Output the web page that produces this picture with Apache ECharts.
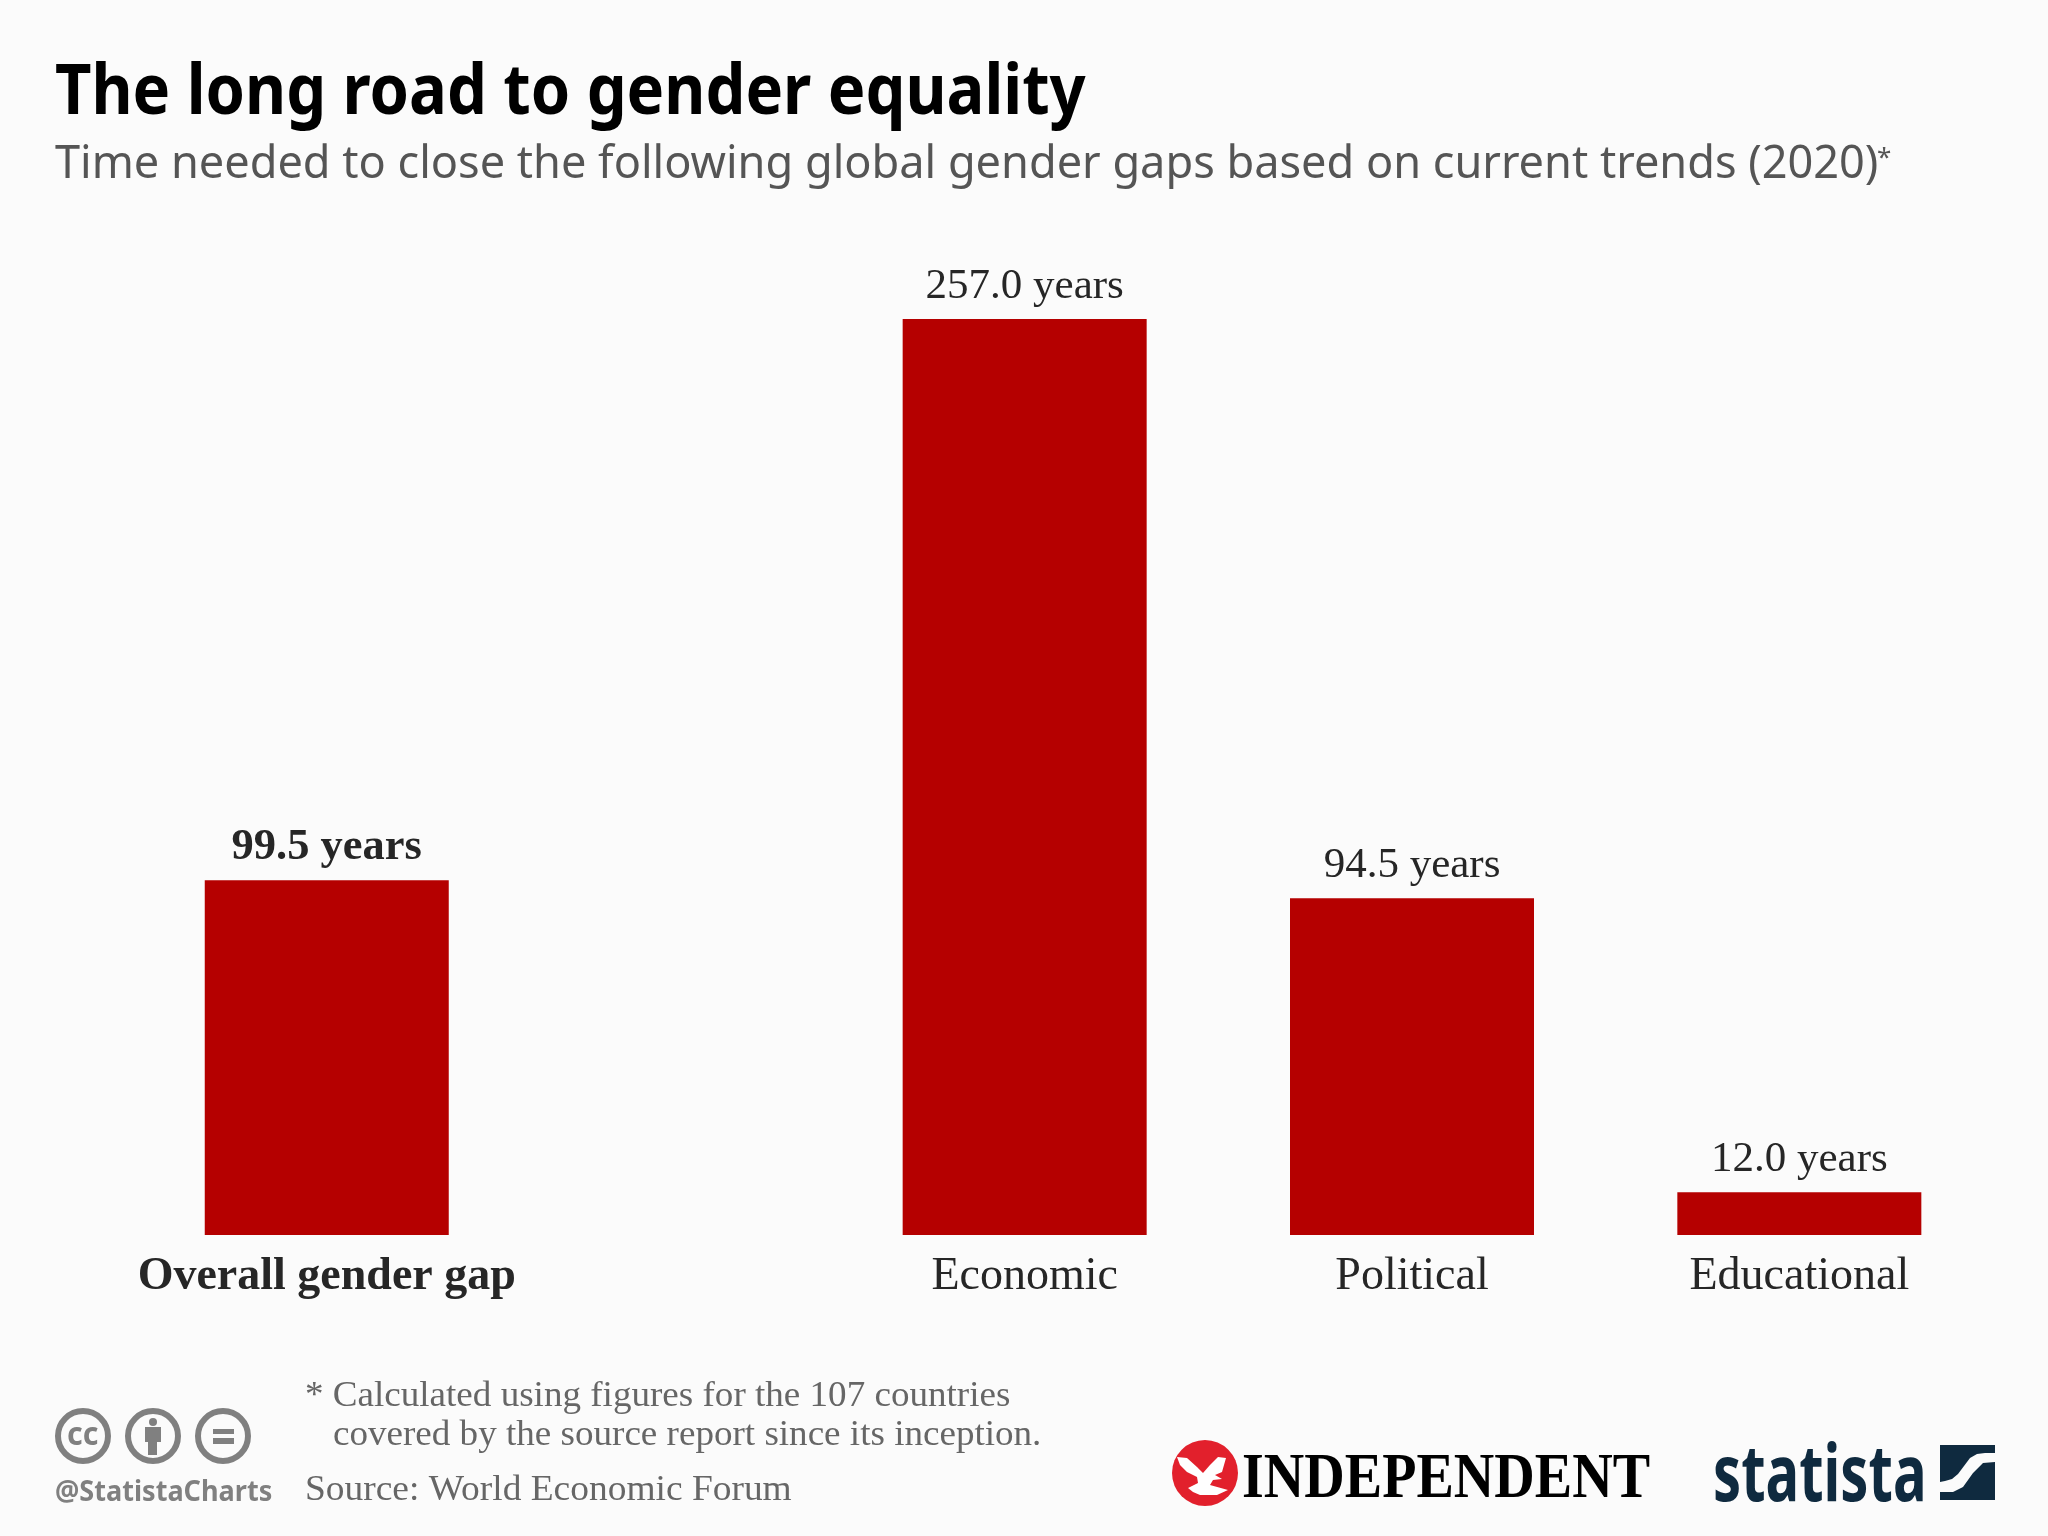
<!DOCTYPE html>
<html><head><meta charset="utf-8">
<style>html,body{margin:0;padding:0;background:#fbfbfb}#c{width:2048px;height:1536px}</style>
<script src="https://cdn.jsdelivr.net/npm/echarts@6/dist/echarts.min.js"></script>
</head><body><div id="c"></div>
<script>
const titleText = 'The long road to gender equality';
const subtitleText = 'Time needed to close the following global gender gaps based on current trends (2020)';
const overallCategories = ['Overall gender gap'];
const overallValues = [99.5];
const gapCategories = ['Economic', 'Political', 'Educational'];
const gapValues = [257.0, 94.5, 12.0];
const footnoteLines = ['* Calculated using figures for the 107 countries', 'covered by the source report since its inception.'];
const sourceText = 'Source: World Economic Forum';

const SERIF = '"Liberation Serif", serif', SANS = '"Noto Sans", sans-serif';
const RED = '#b50000', INK = '#262626', GREY = '#808080', NAVY = '#0f2a3f';
const yMax = 257;
const fmt = p => p.value.toFixed(1) + ' years';

function txt(text, x, y, size, fill, opt) {
  opt = opt || {};
  return {type:'text', x:x, y:y, scaleX:opt.sx||1, silent:true, z:10,
    style:{text:text, fontFamily:opt.font||SANS, fontSize:size, fontWeight:opt.weight||'normal',
      fill:fill, verticalAlign:'bottom', align:'left'}};
}
function ring(cx, cy){ return {type:'circle', shape:{cx:cx, cy:cy, r:25}, silent:true,
  style:{fill:'none', stroke:GREY, lineWidth:6}}; }
function rect(x,y,w,h,fill){ return {type:'rect', shape:{x:x,y:y,width:w,height:h}, silent:true, style:{fill:fill}}; }
function poly(points, fill){ return {type:'polygon', shape:{points:points}, silent:true, z:11, style:{fill:fill}}; }

const graphics = [
  txt(titleText, 55, 129, 70, '#000000', {weight:'bold', sx:0.903}),
  txt(subtitleText, 55, 188, 46, '#555555', {sx:0.98}),
  txt('*', 1877, 172, 26, '#555555'),
  txt(footnoteLines[0], 305, 1415, 36, '#666666', {font:SERIF, sx:1.03}),
  txt(footnoteLines[1], 333, 1454, 36, '#666666', {font:SERIF, sx:1.03}),
  txt(sourceText, 305, 1509, 36, '#666666', {font:SERIF, sx:1.04}),
  ring(83,1436), ring(153,1436), ring(223,1436),
  txt('cc', 67, 1452, 32, GREY, {weight:'bold', sx:0.95}),
  {type:'circle', shape:{cx:153,cy:1422,r:4}, silent:true, style:{fill:GREY}},
  rect(145,1427,16,15,GREY), rect(148,1442,9,13,GREY),
  rect(213,1429,21,5,GREY), rect(213,1438,21,6,GREY),
  txt('@StatistaCharts', 55, 1507, 28, GREY, {weight:'bold', sx:0.967}),
  {type:'circle', shape:{cx:1205,cy:1473,r:33}, silent:true, style:{fill:'#e2202c'}},
  poly([[1177,1457],[1187,1458],[1197,1467],[1203,1473],[1210,1465],[1218,1457],[1226,1458],[1222,1472],[1215,1475],[1222,1479],[1213,1480],[1210,1485],[1228,1490],[1217,1495],[1200,1495],[1193,1492],[1188,1488],[1198,1483],[1197,1477],[1187,1472],[1180,1465]], '#ffffff'),
  txt('INDEPENDENT', 1242, 1512, 63, '#000000', {font:SERIF, weight:'bold', sx:0.89}),
  txt('statista', 1713, 1518, 78, NAVY, {weight:'bold', sx:0.72}),
  rect(1940,1445,55,55,NAVY),
  poly([[1995,1453],[1985,1453],[1977,1454],[1970,1458],[1964,1466],[1958,1474],[1952,1479],[1945,1481],[1940,1482],[1940,1492],[1953,1492],[1963,1487],[1973,1473],[1983,1463],[1995,1462]], '#fbfbfb')
];

function xAx(grid, data, weight) {
  return {type:'category', gridIndex:grid, data:data,
    axisLine:{show:false}, axisTick:{show:false},
    axisLabel:{margin:19, fontFamily:SERIF, fontSize:46, fontWeight:weight, color:INK, interval:0}};
}
function yAx(grid) { return {type:'value', gridIndex:grid, min:0, max:yMax, show:false, splitLine:{show:false}}; }
function bar(i, data, weight, size, dist) {
  return {type:'bar', xAxisIndex:i, yAxisIndex:i, data:data, barWidth:244, itemStyle:{color:RED}, silent:true,
    label:{show:true, position:'top', distance:dist, formatter:fmt, fontFamily:SERIF, fontSize:size, fontWeight:weight, color:INK}};
}

const chart = echarts.init(document.getElementById('c'), null, {renderer:'canvas', width:2048, height:1536});
chart.setOption({
  animation:false,
  backgroundColor:'#fbfbfb',
  grid:[
    {left:133, width:387.5, top:319, height:916, containLabel:false},
    {left:831, width:1162, top:319, height:916, containLabel:false}
  ],
  xAxis:[xAx(0, overallCategories, 'bold'), xAx(1, gapCategories, 'normal')],
  yAxis:[yAx(0), yAx(1)],
  series:[bar(0, overallValues, 'bold', 44.5, 10), bar(1, gapValues, 'normal', 43, 11)],
  graphic:{elements:graphics}
});
</script></body></html>
